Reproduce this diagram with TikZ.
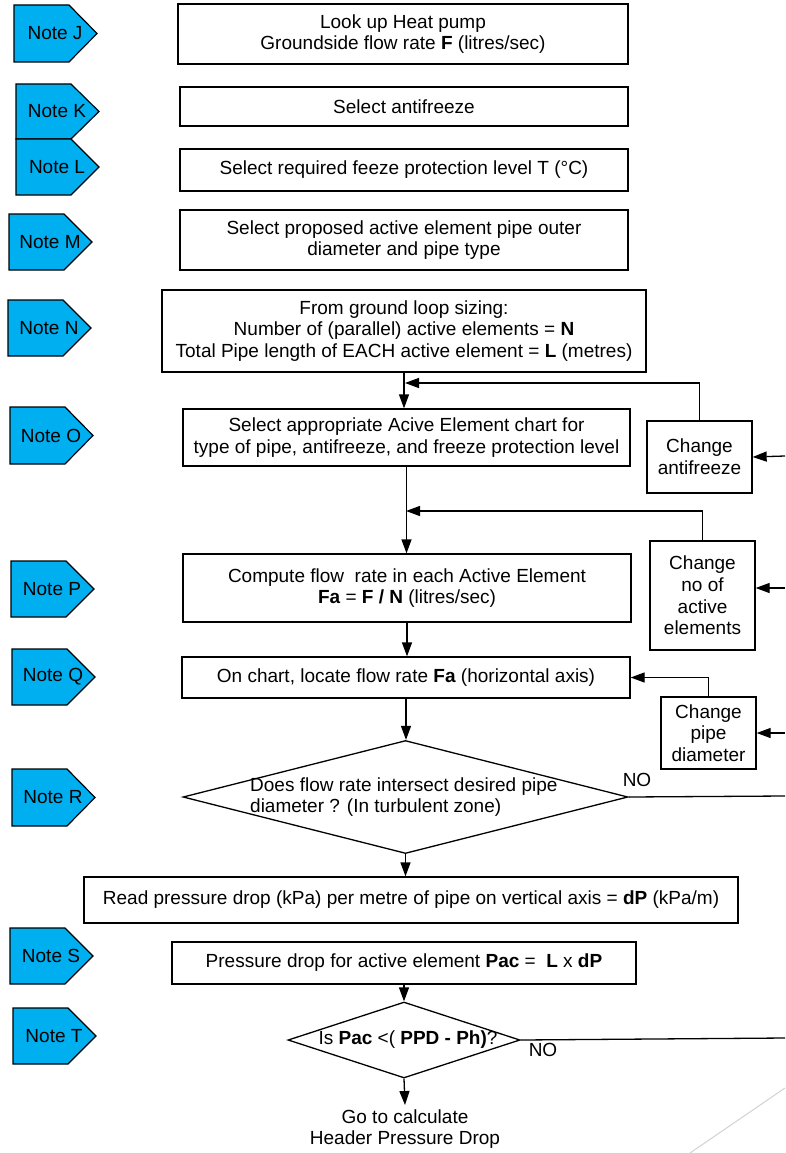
\documentclass[tikz,border=0pt]{standalone}
\usepackage{fontspec}
\setmainfont{Liberation Sans}
\usetikzlibrary{arrows.meta,shapes.geometric,calc}
\definecolor{noteblue}{RGB}{0,175,240}
\begin{document}
\begin{tikzpicture}[x=1pt,y=-1pt,
  every node/.style={font=\fontsize{19}{21.8}\selectfont},
  box/.style={draw, line width=1.3pt, align=center, inner sep=0pt},
  dia/.style={draw, diamond, line width=1.3pt, inner sep=0pt},
  arr/.style={line width=1.3pt, -{Triangle[length=14pt,width=10pt]}},
  ln/.style={line width=1.3pt},
  notebox/.style={draw, fill=noteblue, line width=1.2pt},
]
\useasboundingbox (0,0) rectangle (785,1153);

% notes
\foreach \xl/\yt/\yb/\lab in {14/5/62/J, 16/84/139/K, 16/139/195/L, 9/214/270/M, 8/300/356/N, 10/407/464/O, 11/561/617/P, 12/649/705/Q, 12/769/826/R, 10/928/984/S, 13/1008/1064/T} {
  \draw[notebox] (\xl,\yt) -- (\xl+55,\yt) -- (\xl+83,{(\yt+\yb)/2}) -- (\xl+55,\yb) -- (\xl,\yb) -- cycle;
  \node (note\lab) at (\xl+41,{(\yt+\yb)/2}) {Note \lab};
}

% main boxes
\node[box, minimum width=450, minimum height=60] (b1) at (403,34) {Look up Heat pump\\Groundside flow rate \textbf{F} (litres/sec)};
\node[box, minimum width=448, minimum height=39] (b2) at (404,106.5) {Select antifreeze};
\node[box, minimum width=448, minimum height=42] (b3) at (404,170) {Select required feeze protection level T (°C)};
\node[box, minimum width=448, minimum height=60] (b4) at (404,240) {Select proposed active element pipe outer\\diameter and pipe type};
\node[box, minimum width=484, minimum height=82] (b5) at (404,331) {From ground loop sizing:\\Number of (parallel) active elements = \textbf{N}\\Total Pipe length of EACH active element = \textbf{L} (metres)};
\node[box, minimum width=447, minimum height=57] (b6) at (406.5,437.5) {Select appropriate Acive Element chart for\\type of pipe, antifreeze, and freeze protection level};
\node[box, minimum width=448, minimum height=68] (b7) at (407,588) {Compute flow\ \ rate in each Active Element\\\textbf{Fa} = \textbf{F / N} (litres/sec)};
\node[box, minimum width=448, minimum height=41] (b8) at (406,677.5) {On chart, locate flow rate \textbf{Fa} (horizontal axis)};
\node[box, minimum width=654, minimum height=46] (b9) at (411,900) {Read pressure drop (kPa) per metre of pipe on vertical axis = \textbf{dP} (kPa/m)};
\node[box, minimum width=464, minimum height=42] (b10) at (404,963) {Pressure drop for active element \textbf{Pac} =\ \ \textbf{L} x \textbf{dP}};

% change boxes
\node[box, minimum width=105, minimum height=72] (ca) at (699.5,457) {Change\\antifreeze};
\node[box, minimum width=105, minimum height=109] (cn) at (702.5,595.5) {Change\\no of\\active\\elements};
\node[box, minimum width=95, minimum height=72] (cp) at (708.5,733) {Change\\pipe\\diameter};

% decisions
\node[dia, minimum width=445, minimum height=113] (d1) at (405.5,797) {};
\node[align=left, anchor=west, inner sep=0pt] (d1t) at (250,797) {Does flow rate intersect desired pipe\\diameter ? (In turbulent zone)};
\node[dia, minimum width=232, minimum height=76] (d2) at (404,1040) {};
\node[inner sep=0pt] (d2t) at (408,1040) {Is \textbf{Pac} <( \textbf{PPD - Ph)}?};
\node[align=center, inner sep=4pt] (endt) at (405,1129) {Go to calculate\\Header Pressure Drop};

% labels
\node (no1) at (637,780) {NO};
\node (no2) at (543,1050) {NO};

% junctions and edge coordinates
\coordinate (j1) at (405,383);
\coordinate (j2) at (406,511);
\coordinate (e1) at (785,796);
\coordinate (e2) at (785,456);
\coordinate (e3) at (785,588);
\coordinate (e4) at (785,733);
\coordinate (e5) at (785,1038);

% connectors
\draw[arr] (b5.south) -- (b5.south |- b6.north);
\draw[arr] (ca.north) |- (j1);
\draw[arr] (b6.south) -- (b6.south |- b7.north);
\draw[arr] (cn.north) |- (j2);
\draw[arr] (b7.south) -- (b7.south |- b8.north);
\draw[arr] (cp.north) |- (b8.east);
\draw[arr] (b8.south) -- (b8.south |- d1.north);
\draw[ln] (d1.east) -- (e1);
\draw[arr] (e2) -- (ca.east);
\draw[arr] (e3) -- (e3 -| cn.east);
\draw[arr] (e4) -- (cp.east);
\draw[arr] (d1.south) -- (d1.south |- b9.north);
\draw[arr] (b10.south) -- (d2.north);
\draw[ln] (d2.east) -- (e5);
\draw[arr] (d2.south) -- (endt.north);

% faint page corner line
\draw[gray!35, line width=1pt] (690,1153) -- (785,1088);
\end{tikzpicture}
\end{document}
